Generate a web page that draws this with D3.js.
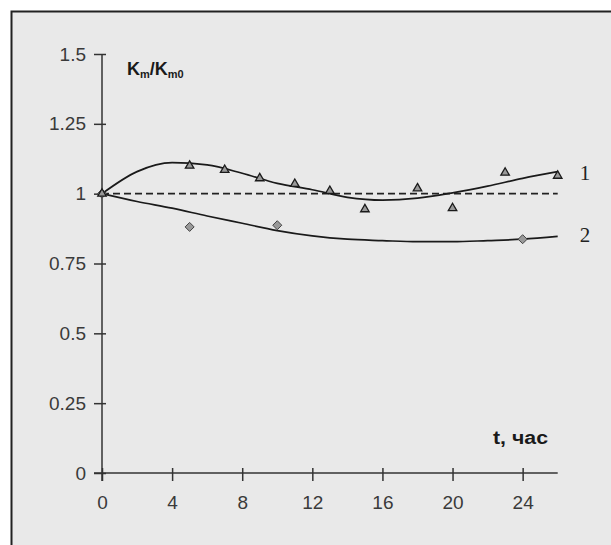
<!DOCTYPE html>
<html>
<head>
<meta charset="utf-8">
<script src="https://cdn.jsdelivr.net/npm/d3@7"></script>
<style>
  body { margin: 0; background: #fff; }
  svg { display: block; }
</style>
</head>
<body>
<div id="chart"></div>
<script>
var width = 611;
var height = 545;

// measured points
var tPoints1 = [0, 5, 7, 9, 11, 13, 15, 18, 20, 23, 26];
var kPoints1 = [1.0, 1.10, 1.085, 1.055, 1.035, 1.01, 0.944, 1.019, 0.948, 1.075, 1.064];
var tPoints2 = [0, 5, 10, 24];
var kPoints2 = [1.0, 0.881, 0.887, 0.837];

// fitted curves
var tFit = [0, 2, 4, 6, 8, 10, 12, 14, 16, 18, 20, 22, 24, 26];
var kFit1 = [1.0, 1.079, 1.111, 1.103, 1.073, 1.037, 1.014, 0.987, 0.977, 0.984, 1.003, 1.027, 1.055, 1.079];
var kFit2 = [1.0, 0.972, 0.948, 0.92, 0.894, 0.868, 0.849, 0.837, 0.832, 0.828, 0.828, 0.832, 0.837, 0.847];

var xTicks = [0, 4, 8, 12, 16, 20, 24];
var yTicks = [0, 0.25, 0.5, 0.75, 1, 1.25, 1.5];

var svg = d3.select("#chart")
            .append("svg")
            .attr("width", width)
            .attr("height", height);

svg.append("rect")
   .attr("x", 11.5)
   .attr("y", 11.5)
   .attr("width", 700)
   .attr("height", 600)
   .style("fill", "#e9e9e9")
   .style("stroke", "#222")
   .style("stroke-width", 2);

var x = d3.scaleLinear().domain([0, 26]).range([102, 557.7]);
var y = d3.scaleLinear().domain([0, 1.5]).range([473, 54]);

var axisColor = "#333";
var tickFont = "'Liberation Sans', Arial, sans-serif";

// y axis
var yAxis = svg.append("g")
               .attr("transform", "translate(" + x(0) + ",0)")
               .call(d3.axisLeft(y).tickValues(yTicks).tickFormat(d => String(d)).tickSizeOuter(0));
yAxis.select(".domain").remove();
yAxis.selectAll(".tick line").attr("x1", 4).attr("x2", -8).style("stroke", axisColor).style("stroke-width", 1.5);
yAxis.selectAll(".tick text")
     .attr("x", -16)
     .style("font-family", tickFont)
     .style("font-size", "19px")
     .style("fill", "#3a3a3a");

// x axis
var xAxis = svg.append("g")
               .attr("transform", "translate(0," + y(0) + ")")
               .call(d3.axisBottom(x).tickValues(xTicks).tickSizeOuter(0));
xAxis.select(".domain").remove();
xAxis.selectAll(".tick line").attr("y1", -5).attr("y2", 8).style("stroke", axisColor).style("stroke-width", 1.5);
xAxis.selectAll(".tick text")
     .attr("y", 23)
     .style("font-family", tickFont)
     .style("font-size", "19px")
     .style("fill", "#3a3a3a");

svg.append("line")
   .attr("x1", x(0)).attr("x2", x(0))
   .attr("y1", y(1.5)).attr("y2", y(0) + 8)
   .style("stroke", axisColor).style("stroke-width", 1.5);
svg.append("line")
   .attr("x1", x(0) - 8).attr("x2", x(26))
   .attr("y1", y(0)).attr("y2", y(0))
   .style("stroke", axisColor).style("stroke-width", 1.5);

// reference line at 1
svg.append("line")
   .attr("x1", x(0)).attr("x2", x(26))
   .attr("y1", y(1)).attr("y2", y(1))
   .style("stroke", "#222")
   .style("stroke-width", 1.6)
   .style("stroke-dasharray", "7,4");

var line = d3.line()
             .x(d => x(d[0]))
             .y(d => y(d[1]))
             .curve(d3.curveMonotoneX);

svg.append("path")
   .attr("d", line(d3.zip(tFit, kFit1)))
   .style("fill", "none")
   .style("stroke", "#1a1a1a")
   .style("stroke-width", 1.7);

svg.append("path")
   .attr("d", line(d3.zip(tFit, kFit2)))
   .style("fill", "none")
   .style("stroke", "#1a1a1a")
   .style("stroke-width", 1.7);

// markers
svg.selectAll(".diamond")
   .data(d3.zip(tPoints2, kPoints2))
   .enter()
   .append("path")
   .attr("class", "diamond")
   .attr("d", d3.symbol(d3.symbolDiamond2, 52))
   .attr("transform", d => "translate(" + x(d[0]) + "," + y(d[1]) + ")")
   .style("fill", "#999")
   .style("stroke", "#444")
   .style("stroke-width", 1);

svg.selectAll(".tri")
   .data(d3.zip(tPoints1, kPoints1))
   .enter()
   .append("path")
   .attr("class", "tri")
   .attr("d", d3.symbol(d3.symbolTriangle2, 52))
   .attr("transform", d => "translate(" + x(d[0]) + "," + y(d[1]) + ")")
   .style("fill", "#999")
   .style("stroke", "#1a1a1a")
   .style("stroke-width", 1.3);

// axis titles
var yTitle = svg.append("text")
                .attr("x", 127)
                .attr("y", 75)
                .style("font-family", tickFont)
                .style("font-weight", "bold")
                .style("font-size", "18px")
                .style("fill", "#1a1a1a");
yTitle.append("tspan").text("K");
yTitle.append("tspan").attr("dy", 3).style("font-size", "11px").text("m");
yTitle.append("tspan").attr("dy", -3).text("/K");
yTitle.append("tspan").attr("dy", 3).style("font-size", "11px").text("m0");

svg.append("text")
   .attr("x", 493)
   .attr("y", 444)
   .attr("textLength", 55)
   .attr("lengthAdjust", "spacingAndGlyphs")
   .style("font-family", tickFont)
   .style("font-weight", "bold")
   .style("font-size", "18px")
   .style("fill", "#1a1a1a")
   .text("t, час");

// series numbers
var seriesLabels = ["1", "2"];
var seriesLabelK = [1.075, 0.855];
svg.selectAll(".series-label")
   .data(seriesLabels)
   .enter()
   .append("text")
   .attr("class", "series-label")
   .attr("x", 585)
   .attr("y", (d, i) => y(seriesLabelK[i]))
   .attr("dy", "0.35em")
   .attr("text-anchor", "middle")
   .style("font-family", "'Liberation Serif', 'Times New Roman', serif")
   .style("font-size", "21px")
   .style("fill", "#222")
   .text(d => d);
</script>
</body>
</html>
